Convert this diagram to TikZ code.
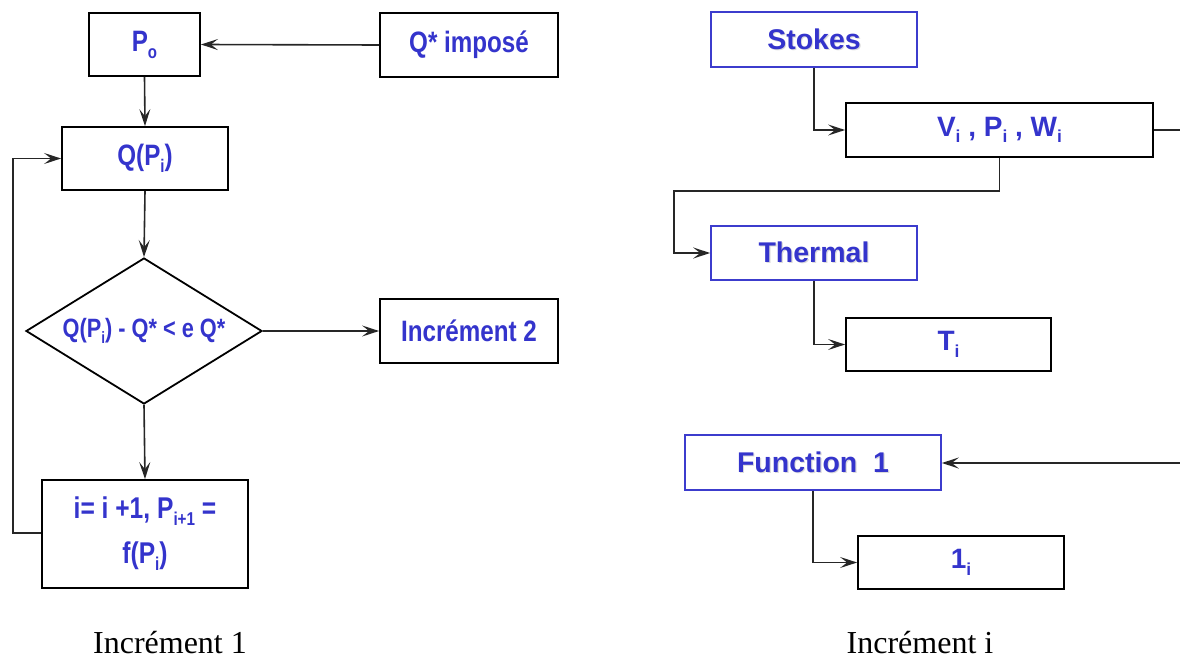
\documentclass[tikz,border=0pt]{standalone}
\usepackage{fontspec}
\usepackage{graphicx}
\setmainfont{Liberation Serif}
\newfontfamily\condfont{Liberation Sans}[FakeStretch=0.82]
\newfontfamily\boldsans{Liberation Sans}
\usetikzlibrary{shapes.geometric,arrows.meta,calc}
\definecolor{txtblue}{RGB}{52,52,204}
\definecolor{boxblue}{RGB}{60,60,205}
\newcommand\sbs[1]{\raisebox{-0.45ex}{\scalebox{0.62}{#1}}}
\newcommand\shd[1]{\makebox[0pt][l]{\hspace{1.2pt}\raisebox{-1.2pt}{\color{black!14}#1}}#1}
\tikzset{
  x=1pt,y=-1pt,
  cbox/.style={draw=black,line width=1.8pt,inner sep=0pt,text=txtblue,
     font=\condfont\bfseries\fontsize{29.5}{32}\selectfont,align=center},
  rbox/.style={draw=black,line width=1.8pt,inner sep=0pt,text=txtblue,
     font=\boldsans\bfseries\fontsize{28}{32}\selectfont},
  bbox/.style={draw=boxblue,line width=1.6pt,inner sep=0pt,text=txtblue,
     font=\boldsans\bfseries\fontsize{28.5}{32}\selectfont},
  conn/.style={line width=1.6pt,draw=black!85},
  arr/.style={conn,-{Stealth[length=17pt,width=11pt,inset=7pt]}},
  captext/.style={font=\fontsize{32}{36}\selectfont,inner sep=0pt,anchor=base,text depth=0pt}
}
\begin{document}
\begin{tikzpicture}
\useasboundingbox (0,0) rectangle (1180,658);
% ---------- left: Increment 1 ----------
\node[cbox,minimum width=111pt,minimum height=63pt] (P0) at (144.5,44.5) {P\sbs{o}};
\node[cbox,minimum width=178pt,minimum height=64pt] (Qs) at (469,45) {Q* imposé};
\node[cbox,minimum width=166pt,minimum height=63pt] (QP) at (145,158.5) {Q(P\sbs{i})};
\node[cbox,diamond,aspect=1.6,minimum width=236pt,minimum height=146pt,
      font=\condfont\bfseries\fontsize{26.5}{30}\selectfont] (D) at (144,331)
   {Q(P\sbs{i}) - Q* < e Q*};
\node[cbox,minimum width=178pt,minimum height=64pt] (I2) at (469,331) {Incrément 2};
\node[cbox,minimum width=206pt,minimum height=108pt,font=\condfont\bfseries\fontsize{30}{45}\selectfont] (B) at (145,534)
   {i= i +1, P\sbs{i+1} =\\f(P\sbs{i})};
\coordinate (L1) at (13,533);
\draw[arr] (Qs.west) -- (P0.east);
\draw[arr] (P0.south) -- (QP.north);
\draw[arr] (QP.south) -- (D.north);
\draw[arr] (D.east) -- (I2.west);
\draw[arr] (D.south) -- (B.north);
\draw[arr] (B.west |- L1) -- (L1) |- (QP.west);
\node[captext] (C1) at (170,653) {Incrément 1};
% ---------- right: Increment i ----------
\node[bbox,minimum width=206pt,minimum height=55pt] (S) at (814,39.5) {\shd{Stokes}};
\node[rbox,minimum width=307pt,minimum height=54pt] (V) at (999.5,130)
   {V\sbs{i} , P\sbs{i} , W\sbs{i}};
\node[bbox,minimum width=206pt,minimum height=54pt] (Th) at (814,253) {\shd{Thermal}};
\node[rbox,minimum width=205pt,minimum height=53pt] (T) at (948.5,344.5) {T\sbs{i}};
\node[bbox,minimum width=256pt,minimum height=55pt] (F) at (813,462.5) {\shd{Function\ \ 1}};
\node[rbox,minimum width=206pt,minimum height=53pt] (O) at (961,562.5) {1\sbs{i}};
\coordinate (bend) at (674,191);
\coordinate (Vout) at (1180,130);
\coordinate (Fin) at (1180,463);
\draw[arr] (S.south) |- (V.west);
\draw[arr] (V.south) |- (bend) |- (Th.west);
\draw[arr] (Th.south) |- (T.west);
\draw[conn] (V.east) -- (Vout);
\draw[arr] (Fin) -- (F.east |- Fin);
\draw[arr] (F.south) |- (O.west);
\node[captext] (C2) at (920,653) {Incrément i};
\end{tikzpicture}
\end{document}
